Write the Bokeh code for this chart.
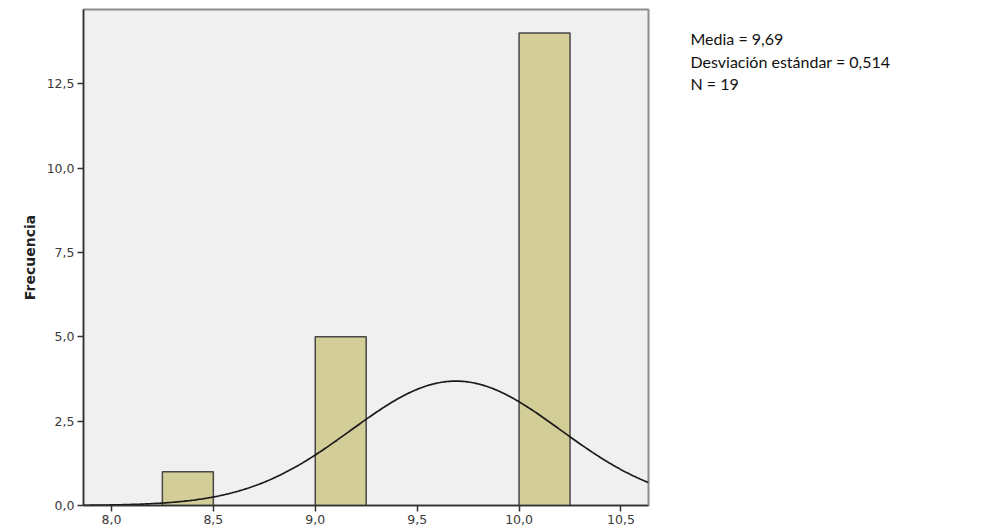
import numpy as np
from bokeh.plotting import figure
from bokeh.layouts import row
from bokeh.models import FixedTicker, Range1d
from bokeh.core.properties import value
from bokeh.embed import file_html
from bokeh.resources import INLINE

# Histogram data (bins of width 0.25)
bin_left = [8.25, 9.0, 10.0]
bin_right = [8.5, 9.25, 10.25]
counts = [1, 5, 14]

mean = 9.69
sd = 0.514
n = 19
bin_width = 0.25

x_ticks = [8.0, 8.5, 9.0, 9.5, 10.0, 10.5]
x_tick_labels = ["8,0", "8,5", "9,0", "9,5", "10,0", "10,5"]
y_ticks = [0.0, 2.5, 5.0, 7.5, 10.0, 12.5]
y_tick_labels = ["0,0", "2,5", "5,0", "7,5", "10,0", "12,5"]

stats_lines = ["Media = 9,69", "Desviación estándar = 0,514", "N = 19"]

H = 528
p = figure(width=660, height=H, output_backend="svg", toolbar_location=None,
           x_range=Range1d(7.863, 10.635), y_range=Range1d(0, 14.7))
p.min_border_left = 83
p.min_border_right = 12
p.min_border_top = 9
p.min_border_bottom = 23

p.background_fill_color = "#F0F0F0"
p.border_fill_color = "white"
p.outline_line_color = "#8C8C8C"
p.outline_line_width = 2
p.grid.visible = False

p.quad(left=bin_left, right=bin_right, bottom=0, top=counts,
       fill_color="#D3CE97", line_color="#474747", line_width=1.5)

xs = np.linspace(7.863, 10.635, 400)
ys = n * bin_width / (sd * np.sqrt(2 * np.pi)) * np.exp(-0.5 * ((xs - mean) / sd) ** 2)
p.line(xs, ys, line_color="#1a1a1a", line_width=1.7)

for ax in (p.xaxis[0], p.yaxis[0]):
    ax.axis_line_color = "#333333"
    ax.axis_line_width = 1.5
    ax.major_tick_line_color = "#333333"
    ax.major_tick_line_width = 1.5
    ax.major_tick_out = 6
    ax.major_tick_in = 0
    ax.minor_tick_line_color = None
    ax.major_label_text_font = "DejaVu Sans"
    ax.major_label_text_font_size = "12.5px"
    ax.major_label_text_color = "#3a3a3a"
    ax.major_label_standoff = 3

p.xaxis.ticker = FixedTicker(ticks=x_ticks)
p.xaxis.major_label_overrides = dict(zip(x_ticks, x_tick_labels))
p.yaxis.ticker = FixedTicker(ticks=y_ticks)
p.yaxis.major_label_overrides = dict(zip(y_ticks, y_tick_labels))

p.yaxis.axis_label = "Frecuencia"
p.yaxis.axis_label_text_font = "DejaVu Sans"
p.yaxis.axis_label_text_font_style = "bold"
p.yaxis.axis_label_text_font_size = "14px"
p.yaxis.axis_label_text_color = "#222222"
p.yaxis.axis_label_standoff = 6

# Stats panel to the right of the chart
q = figure(width=330, height=H, output_backend="svg", toolbar_location=None,
           x_range=Range1d(0, 330), y_range=Range1d(H, 0),
           min_border=0, outline_line_color=None)
q.axis.visible = False
q.grid.visible = False
q.background_fill_color = "white"
q.border_fill_color = "white"
q.text(x=[30] * len(stats_lines), y=[21 + 24 * i for i in range(len(stats_lines))],
       text=stats_lines, text_font=value("Lato"), text_font_size="16px",
       text_color="#111111", text_baseline="top", text_align="left")

layout = row(p, q, spacing=0)
open("out.html", "w").write(file_html(layout, INLINE))
